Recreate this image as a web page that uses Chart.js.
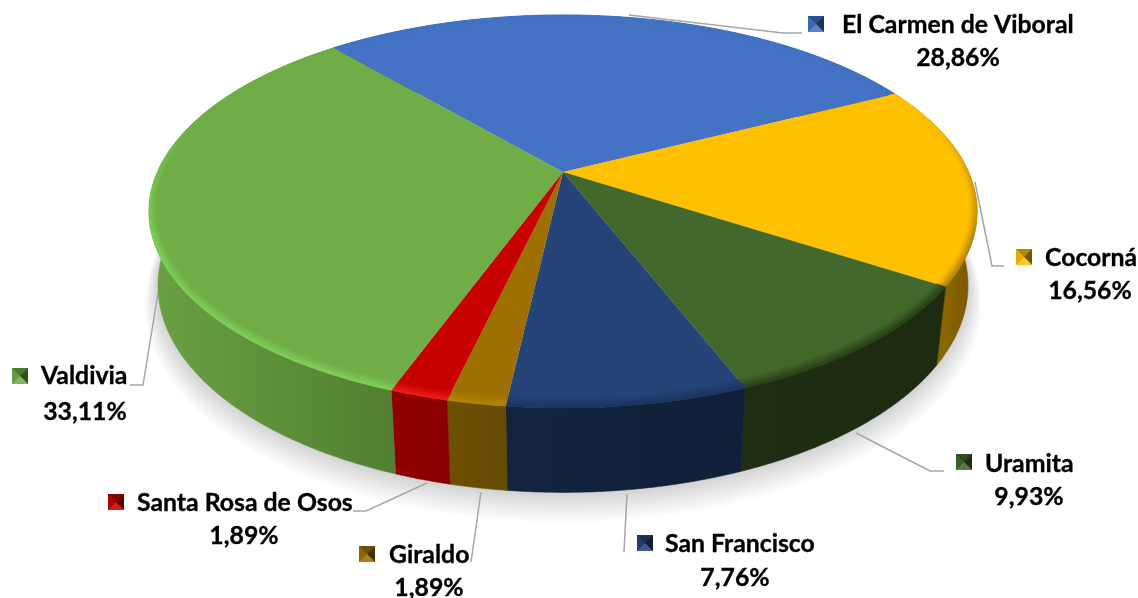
<!DOCTYPE html>
<html>
<head>
<meta charset="utf-8">
<style>
  html, body { margin: 0; padding: 0; background: #fff; }
  canvas { display: block; }
</style>
<script src="https://cdn.jsdelivr.net/npm/chart.js@4/dist/chart.umd.min.js"></script>
</head>
<body>
<canvas id="myChart" width="1138" height="598"></canvas>
<script>
var categorias = ['El Carmen de Viboral', 'Cocorná', 'Uramita', 'San Francisco', 'Giraldo', 'Santa Rosa de Osos', 'Valdivia'];
var valores = [28.86, 16.56, 9.93, 7.76, 1.89, 1.89, 33.11];
var etiquetas = ['28,86%', '16,56%', '9,93%', '7,76%', '1,89%', '1,89%', '33,11%'];

var colores = ['#4472C4', '#FFC000', '#43682B', '#264478', '#9E7003', '#C70000', '#70AD47'];
var coloresBorde = ['#4472C4', '#B08400', '#2A3F1B', '#1C3460', '#B58604', '#F21C1C', '#80D05A'];
var paredClaro = ['#34568F', '#8A6500', '#1F2E12', '#14243F', '#6E5002', '#920000', '#6AA043'];
var paredOscuro = ['#34568F', '#755500', '#1D2B10', '#111F38', '#654A02', '#8A0000', '#527F31'];

// marker x,y, text x,y, percent center x,y
var posMarca = [[808, 16], [1016, 249], [956, 454], [637, 535], [359, 546], [108, 494], [12, 368]];
var posTexto = [[842, 33], [1045, 266], [985, 472], [665, 552], [389, 563], [137, 511], [41, 384]];
var posPct = [[958, 66], [1090, 299], [1029, 505], [735, 586], [429, 596], [244, 544], [85, 420]];
var lineas = [
  [[629, 15], [783, 33], [802, 33]],
  [[975, 182], [992, 266], [1004, 266]],
  [[856, 433], [930, 471], [944, 471]],
  [[627, 494], [624, 552]],
  [[481, 492], [471, 562]],
  [[427, 483], [366, 511], [353, 511]],
  [[158, 293], [143, 385], [130, 385]]
];

// perspective of the disc
var cx = 563, cy = 172, a = 405.6, b = 154, k = -0.201, fondoY = 78, fondoW = 0.0215;

function proyectar(r, ang, h) {
  var u = r * Math.cos(ang), v = r * Math.sin(ang);
  var w = 1 + k * v + fondoW * h;
  return [cx + a * u / w, (cy + b * v + fondoY * h) / w];
}

function hex(c) {
  return [parseInt(c.substr(1, 2), 16), parseInt(c.substr(3, 2), 16), parseInt(c.substr(5, 2), 16)];
}
function mezcla(c1, c2, t) {
  var x = hex(c1), y = hex(c2);
  return 'rgb(' + Math.round(x[0] + (y[0] - x[0]) * t) + ',' + Math.round(x[1] + (y[1] - x[1]) * t) + ',' + Math.round(x[2] + (y[2] - x[2]) * t) + ')';
}

function borde(ctx, r, a0, a1, h, primero) {
  var n = Math.max(2, Math.ceil(Math.abs(a1 - a0) / 0.01));
  for (var i = 0; i <= n; i++) {
    var p = proyectar(r, a0 + (a1 - a0) * i / n, h);
    if (i == 0 && primero) ctx.moveTo(p[0], p[1]); else ctx.lineTo(p[0], p[1]);
  }
}

function dibujarPared(ctx, arco, i) {
  // gradient runs over the part of the wall that faces the viewer
  var xMin = 1e9, xMax = -1e9;
  for (var s = 0; s <= 40; s++) {
    var ang = arco.startAngle + (arco.endAngle - arco.startAngle) * s / 40;
    if (Math.sin(ang) > -0.1) {
      var x = proyectar(1, ang, 0)[0];
      xMin = Math.min(xMin, x);
      xMax = Math.max(xMax, x);
    }
  }
  if (xMax <= xMin) { xMin = 0; xMax = 1; }
  var g = ctx.createLinearGradient(xMin, 0, xMax, 0);
  g.addColorStop(0, paredClaro[i]);
  g.addColorStop(1, paredOscuro[i]);
  ctx.beginPath();
  borde(ctx, 1, arco.startAngle, arco.endAngle, 0, true);
  borde(ctx, 1, arco.endAngle, arco.startAngle, 1, false);
  ctx.closePath();
  ctx.fillStyle = g;
  ctx.strokeStyle = g;
  ctx.lineWidth = 0.6;
  ctx.fill();
  ctx.stroke();
}

function dibujarTapa(ctx, arco, i) {
  ctx.beginPath();
  ctx.moveTo(cx, cy);
  borde(ctx, 1, arco.startAngle, arco.endAngle, 0, false);
  ctx.closePath();
  ctx.fillStyle = colores[i];
  ctx.fill();

  // bevel around the edge, stronger on the near side
  var anillos = 6, paso = 0.02;
  var n = Math.ceil((arco.endAngle - arco.startAngle) / paso);
  for (var s = 0; s < n; s++) {
    var a0 = arco.startAngle + (arco.endAngle - arco.startAngle) * s / n;
    var a1 = arco.startAngle + (arco.endAngle - arco.startAngle) * (s + 1) / n;
    var sen = Math.sin(a0);
    var f = Math.max(0, Math.min(1, (sen + 0.35) / 0.7));
    var ancho = 0.017 + 0.017 * sen * sen;
    for (var q = 0; q < anillos; q++) {
      var r0 = 1 - ancho * q / anillos, r1 = 1 - ancho * (q + 1) / anillos;
      var t = (1 - q / anillos) * f;
      var c = mezcla(colores[i], coloresBorde[i], t);
      ctx.beginPath();
      var p1 = proyectar(r0, a0, 0), p2 = proyectar(r0, a1, 0), p3 = proyectar(r1, a1, 0), p4 = proyectar(r1, a0, 0);
      ctx.moveTo(p1[0], p1[1]);
      ctx.lineTo(p2[0], p2[1]);
      ctx.lineTo(p3[0], p3[1]);
      ctx.lineTo(p4[0], p4[1]);
      ctx.closePath();
      ctx.fillStyle = c;
      ctx.strokeStyle = c;
      ctx.lineWidth = 0.5;
      ctx.fill();
      ctx.stroke();
    }
  }
}

function dibujarMarca(ctx, x, y, i) {
  var t = 16, m = t / 2;
  var caras = [
    [[x, y], [x + t, y], [x + m, y + m], mezcla(colores[i], '#000000', 0.3)],
    [[x, y], [x + m, y + m], [x, y + t], mezcla(colores[i], '#000000', 0.1)],
    [[x + t, y], [x + m, y + m], [x + t, y + t], mezcla(colores[i], '#000000', 0.55)],
    [[x, y + t], [x + m, y + m], [x + t, y + t], mezcla(colores[i], '#FFFFFF', 0.12)]
  ];
  ctx.fillStyle = mezcla(colores[i], '#000000', 0.25);
  ctx.fillRect(x, y, t, t);
  caras.forEach(function (c) {
    ctx.beginPath();
    ctx.moveTo(c[0][0], c[0][1]);
    ctx.lineTo(c[1][0], c[1][1]);
    ctx.lineTo(c[2][0], c[2][1]);
    ctx.closePath();
    ctx.fillStyle = c[3];
    ctx.fill();
  });
}

var pastel3d = {
  id: 'pastel3d',
  beforeDatasetsDraw: function (chart) {
    var ctx = chart.ctx;
    var arcos = chart.getDatasetMeta(0).data;

    // soft shadow under the body, built up in layers
    ctx.save();
    ctx.fillStyle = 'rgba(0,0,0,0.016)';
    for (var s = 14; s >= 1; s--) {
      ctx.beginPath();
      borde(ctx, 1 + 0.0026 * s, 0, Math.PI * 2, 1 + 0.016 * s, true);
      ctx.closePath();
      ctx.fill();
    }
    ctx.restore();

    // leader lines go under the pie
    ctx.save();
    ctx.strokeStyle = '#A6A6A6';
    ctx.lineWidth = 1.5;
    lineas.forEach(function (l) {
      ctx.beginPath();
      l.forEach(function (p, j) {
        if (j == 0) ctx.moveTo(p[0], p[1]); else ctx.lineTo(p[0], p[1]);
      });
      ctx.stroke();
    });
    ctx.restore();

    ctx.save();
    arcos.forEach(function (arco, i) { dibujarPared(ctx, arco, i); });
    arcos.forEach(function (arco, i) { dibujarTapa(ctx, arco, i); });
    ctx.restore();

    ctx.save();
    ctx.font = 'bold 24.8px Lato';
    ctx.textBaseline = 'alphabetic';
    ctx.lineWidth = 0.35;
    categorias.forEach(function (nombre, i) {
      dibujarMarca(ctx, posMarca[i][0], posMarca[i][1], i);
      ctx.fillStyle = '#000';
      ctx.strokeStyle = '#000';
      ctx.textAlign = 'left';
      ctx.fillText(nombre, posTexto[i][0], posTexto[i][1]);
      ctx.strokeText(nombre, posTexto[i][0], posTexto[i][1]);
      ctx.textAlign = 'center';
      ctx.fillText(etiquetas[i], posPct[i][0], posPct[i][1]);
      ctx.strokeText(etiquetas[i], posPct[i][0], posPct[i][1]);
    });
    ctx.restore();
    return false;
  }
};

new Chart(document.getElementById('myChart').getContext('2d'), {
  type: 'pie',
  data: {
    labels: categorias,
    datasets: [{ data: valores, backgroundColor: colores, borderWidth: 0 }]
  },
  options: {
    responsive: false,
    animation: false,
    rotation: -40.7,
    plugins: { legend: { display: false }, tooltip: { enabled: false } }
  },
  plugins: [pastel3d]
});
</script>
</body>
</html>
